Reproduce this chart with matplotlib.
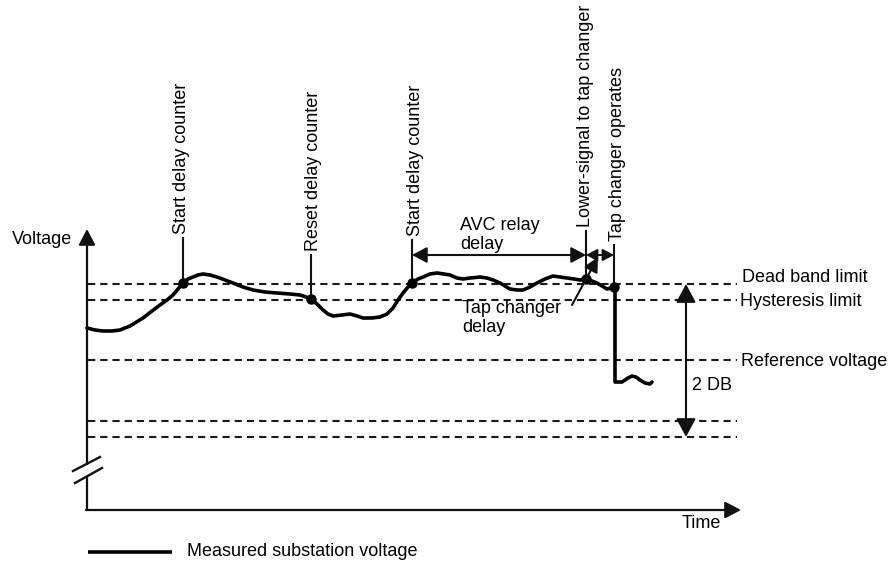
import matplotlib
matplotlib.use("Agg")
import matplotlib.pyplot as plt
from matplotlib.patches import ArrowStyle

plt.rcParams['font.family'] = ['Liberation Sans', 'DejaVu Sans']
plt.rcParams['lines.scale_dashes'] = False

# ---- data (schematic units: time to the right, voltage on an inverted drawing scale) ----
curve_t = [87, 95, 103, 112, 120, 130, 143, 152, 160, 167, 173, 178, 183, 188, 193, 198, 203,
           210, 217, 225, 233, 243, 253, 265, 277, 290, 300, 306, 311, 317, 323, 328, 333, 342,
           350, 357, 363, 372, 380, 387, 393, 398, 403, 408, 412, 418, 423, 430, 437, 444, 450,
           457, 463, 470, 480, 487, 493, 500, 505, 510, 517, 523, 530, 537, 545, 553, 560, 567,
           574, 580, 586, 592, 597, 602, 607, 611, 614, 615, 615, 622, 628, 632, 636, 640, 645,
           650, 652]
curve_v = [328, 330, 331, 331, 330, 326, 318, 311, 305, 300, 295, 289, 283, 279, 277, 275, 274,
           275, 277, 280, 283, 287, 290, 292, 293, 294, 295, 297, 299, 304, 310, 314, 316, 315,
           314, 316, 318, 318, 317, 314, 308, 300, 293, 287, 283, 279, 277, 274, 273, 274, 275,
           278, 279, 278, 277, 278, 280, 283, 286, 289, 290, 290, 287, 283, 279, 276, 277, 278,
           279, 280, 279, 281, 283, 286, 289, 288, 287, 290, 382, 382, 378, 376, 377, 380, 383,
           384, 382]

level_names = ['Dead band limit', 'Hysteresis limit', 'Reference voltage', '', '']
level_values = [284, 300, 360, 421, 437]

event_names = ['Start delay counter', 'Reset delay counter', 'Start delay counter',
               'Lower-signal to tap changer', 'Tap changer operates']
event_times = [183, 311, 412, 586, 614]
event_values = [283, 299, 283, 279, 287]
event_label_x = [182, 313, 415, 585, 617]
event_line_top = [238, 255, 240, 231, 245]

W, H = 889, 563
fig = plt.figure(figsize=(W / 100, H / 100), dpi=100)
ax = fig.add_axes([0, 0, 1, 1])
ax.set_xlim(0, W)
ax.set_ylim(H, 0)
ax.axis('off')

FS = 13
INK = '#111111'
axis_x0, axis_y0 = 87, 510

# dashed level lines
for name, v in zip(level_names, level_values):
    ax.plot([88, 737], [v, v], color='#1a1a1a', lw=1.5, dashes=(5.2, 3.6))
ax.text(742, level_values[0] - 7, level_names[0], fontsize=FS, va='center', ha='left')
ax.text(740, level_values[1] + 1, level_names[1], fontsize=FS, va='center', ha='left')
ax.text(741, level_values[2] + 2, level_names[2], fontsize=FS, va='center', ha='left')

# axes with arrows
arrow_head = ArrowStyle('-|>', head_length=0.8, head_width=0.42)
ax.plot([axis_x0, axis_x0], [axis_y0, 476], color=INK, lw=1.6, solid_capstyle='butt')
ax.annotate('', xy=(axis_x0, 229), xytext=(axis_x0, 464),
            arrowprops=dict(arrowstyle=arrow_head, color=INK, lw=1.6,
                            shrinkA=0, shrinkB=0, mutation_scale=12))
ax.annotate('', xy=(741, axis_y0), xytext=(axis_x0 - 1, axis_y0),
            arrowprops=dict(arrowstyle=arrow_head, color=INK, lw=1.6,
                            shrinkA=0, shrinkB=0, mutation_scale=12))
# axis break marks
ax.plot([73, 100], [471, 457], color=INK, lw=1.7)
ax.plot([75, 102], [483, 468], color=INK, lw=1.7)

ax.text(72, 240, 'Voltage', fontsize=FS, ha='right', va='center')
ax.text(701, 523, 'Time', fontsize=FS, ha='center', va='center')

# measured voltage curve
ax.plot(curve_t, curve_v, color='black', lw=2.6, solid_joinstyle='round', solid_capstyle='round')

# event markers
for name, t, v, lx, top in zip(event_names, event_times, event_values, event_label_x, event_line_top):
    ax.plot([t, t], [v, top], color=INK, lw=1.5)
    ax.plot([t], [v], 'o', color='black', ms=6.5)
    ax.text(lx, top - 4, name, fontsize=FS, rotation=90, ha='center', va='bottom')

# AVC relay delay arrow
dbl = ArrowStyle('<|-|>', head_length=0.75, head_width=0.4)
ax.annotate('', xy=(event_times[3], 255), xytext=(event_times[2], 255),
            arrowprops=dict(arrowstyle=dbl, color=INK, lw=1.5,
                            shrinkA=0, shrinkB=0, mutation_scale=12))
ax.text(460, 235, 'AVC relay\ndelay', fontsize=FS, ha='left', va='center', linespacing=1.1)

# tap changer delay arrow
ax.annotate('', xy=(event_times[4], 255), xytext=(event_times[3], 255),
            arrowprops=dict(arrowstyle=dbl, color=INK, lw=1.4,
                            shrinkA=0, shrinkB=0, mutation_scale=9))
ax.annotate('', xy=(598, 257), xytext=(572, 305),
            arrowprops=dict(arrowstyle=ArrowStyle('-|>', head_length=0.8, head_width=0.4),
                            color=INK, lw=1.5, shrinkA=0, shrinkB=0, mutation_scale=11))
ax.text(462, 318, 'Tap changer\ndelay', fontsize=FS, ha='left', va='center', linespacing=1.1)

# 2 DB arrow
ax.annotate('', xy=(686, level_values[4]), xytext=(686, level_values[0]),
            arrowprops=dict(arrowstyle=dbl, color=INK, lw=1.5,
                            shrinkA=0, shrinkB=0, mutation_scale=15))
ax.text(692, 385, '2 DB', fontsize=FS, ha='left', va='center')

# legend
ax.plot([88, 172], [552, 552], color='black', lw=2.6, solid_capstyle='butt')
ax.text(187, 551, 'Measured substation voltage', fontsize=FS, ha='left', va='center')

fig.savefig('out.png', dpi=100)
